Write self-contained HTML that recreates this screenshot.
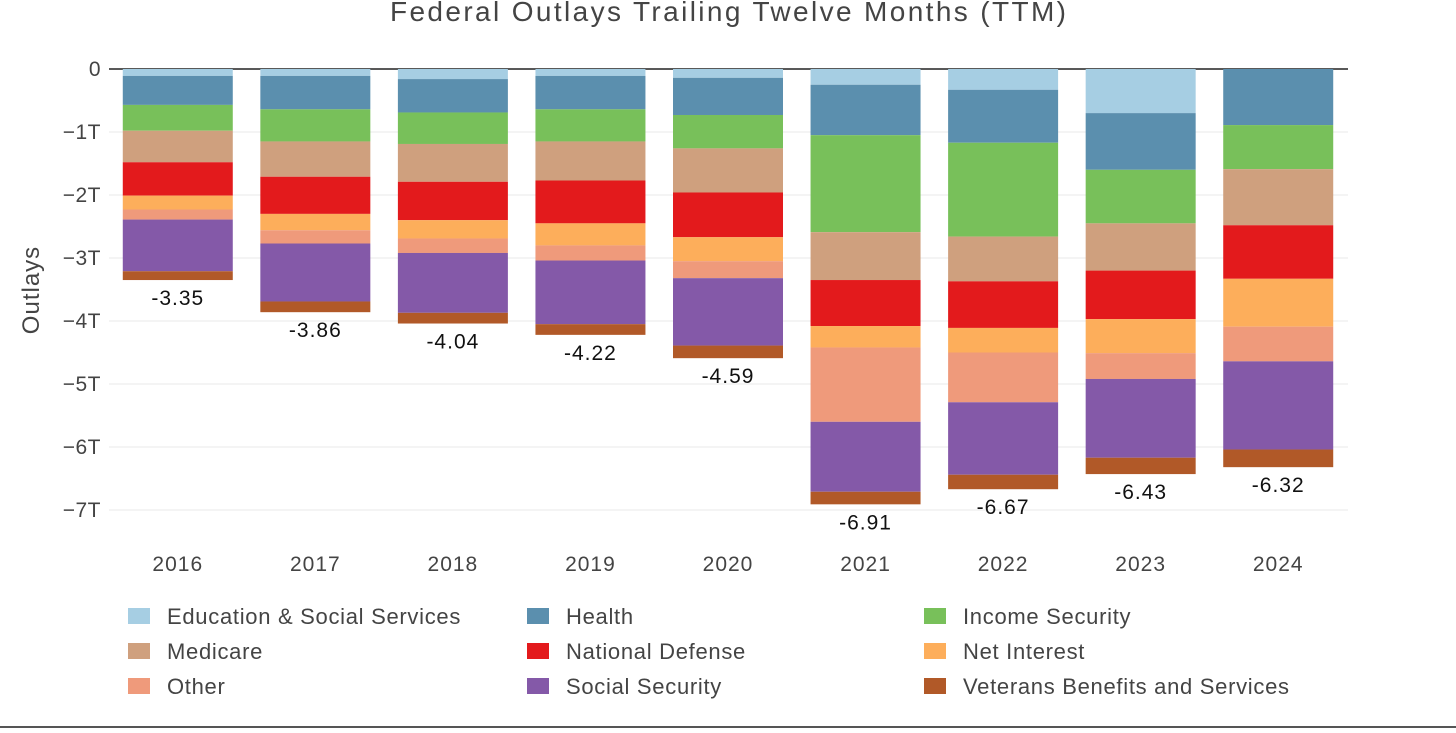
<!DOCTYPE html>
<html><head><meta charset="utf-8">
<style>
html,body{margin:0;padding:0;background:#fff;}
body{width:1456px;height:728px;overflow:hidden;font-family:"Liberation Sans",sans-serif;}
</style></head>
<body>
<svg id="chart" width="1456" height="728" xmlns="http://www.w3.org/2000/svg" font-family="Liberation Sans, sans-serif">
<text x="728" y="21" text-anchor="middle" font-size="28" fill="#444" textLength="676" lengthAdjust="spacing">Federal Outlays Trailing Twelve Months (TTM)</text>
<text transform="translate(39,290) rotate(-90)" text-anchor="middle" font-size="24" fill="#444" letter-spacing="1">Outlays</text>
<g id="grid"></g>
<g id="bars"></g>
<g id="labels"></g>
<g id="legend"></g>
<line x1="0" y1="727" x2="1456" y2="727" stroke="#555" stroke-width="2"/>
</svg>
<script>
const categories = ["2016","2017","2018","2019","2020","2021","2022","2023","2024"];
const seriesNames = ["Education & Social Services","Health","Income Security","Medicare","National Defense","Net Interest","Other","Social Security","Veterans Benefits and Services"];
const seriesColors = ["#a6cee3","#5b8fae","#78c05a","#cfa07e","#e31a1c","#fdae5b","#ef9a7b","#8459a8","#b15928"];
const education = [0.11,0.11,0.16,0.11,0.14,0.25,0.33,0.70,0.00];
const health = [0.46,0.53,0.53,0.53,0.59,0.80,0.84,0.90,0.89];
const incomeSecurity = [0.41,0.51,0.50,0.51,0.53,1.54,1.49,0.85,0.70];
const medicare = [0.50,0.56,0.60,0.62,0.70,0.76,0.71,0.75,0.89];
const defense = [0.53,0.59,0.61,0.68,0.71,0.73,0.74,0.77,0.85];
const netInterest = [0.22,0.26,0.29,0.35,0.38,0.34,0.39,0.54,0.76];
const other = [0.16,0.21,0.23,0.24,0.27,1.18,0.79,0.41,0.55];
const socialSecurity = [0.82,0.92,0.95,1.01,1.07,1.11,1.15,1.25,1.40];
const veterans = [0.14,0.17,0.17,0.17,0.20,0.20,0.23,0.26,0.28];
const totals = ["-3.35","-3.86","-4.04","-4.22","-4.59","-6.91","-6.67","-6.43","-6.32"];
const yTicks = [0,-1,-2,-3,-4,-5,-6,-7];
const yTickLabels = ["0","\u22121T","\u22122T","\u22123T","\u22124T","\u22125T","\u22126T","\u22127T"];

const NS="http://www.w3.org/2000/svg";
const series=[education,health,incomeSecurity,medicare,defense,netInterest,other,socialSecurity,veterans];
const plotL=109, plotR=1347, y0=69, pxPerT=63;
const band=(plotR-plotL)/categories.length, barW=110;
function yScale(v){return y0 - v*pxPerT;}
function xCenter(i){return plotL+band*(i+0.5);}
function mk(tag,attrs,parent){const e=document.createElementNS(NS,tag);for(const k in attrs)e.setAttribute(k,attrs[k]);parent.appendChild(e);return e;}
const grid=document.getElementById('grid');
yTicks.forEach((t,i)=>{
  const y=yScale(t);
  const l=mk('line',{x1:plotL,x2:plotR+1,y1:y,y2:y,stroke:t===0?'#222':'#e8e8e8','stroke-width':t===0?1.5:1},grid);
  
  
  const tx=mk('text',{x:101,y:y+7,'text-anchor':'end','font-size':21,fill:'#444','letter-spacing':0.5},grid);
  tx.textContent=yTickLabels[i];
  
  
});
const bars=document.getElementById('bars'), labels=document.getElementById('labels');
categories.forEach((c,i)=>{
  let cum=0;
  const cx=xCenter(i);
  series.forEach((s,j)=>{
    const top=yScale(-cum); cum+=s[i]; const bot=yScale(-cum);
    const r=mk('rect',{x:cx-barW/2,y:top,width:barW,height:Math.max(0,bot-top),fill:seriesColors[j]},bars);
    
    
  });
  const t=mk('text',{x:cx,y:yScale(-cum)+25,'text-anchor':'middle','font-size':21,fill:'#111','letter-spacing':1},labels);
  t.textContent=totals[i];
  
  
  const xl=mk('text',{x:cx,y:571,'text-anchor':'middle','font-size':21,fill:'#444','letter-spacing':1},labels);
  xl.textContent=c;
  
  
});
const legend=document.getElementById('legend');
const colX=[128,527,924], rowY=[616,651,686];
seriesNames.forEach((n,k)=>{
  const x=colX[k%3], y=rowY[Math.floor(k/3)];
  const g=mk('g',{},legend);
  
  
  mk('rect',{x:x,y:y-8,width:22,height:16,fill:seriesColors[k]},g);
  const t=mk('text',{x:x+39,y:y+8,'font-size':22,fill:'#444','letter-spacing':0.7},g);
  t.textContent=n;
});
</script>
</body></html>
